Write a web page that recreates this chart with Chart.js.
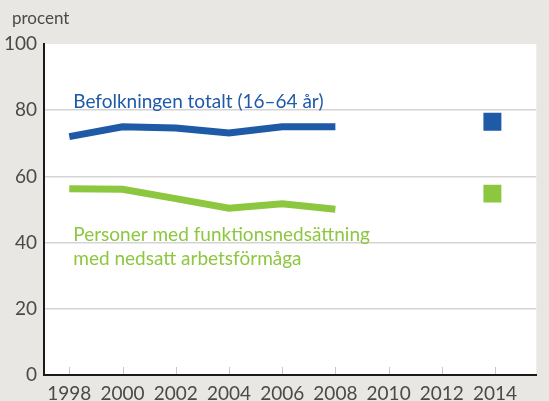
<!DOCTYPE html>
<html>
<head>
<meta charset="utf-8">
<script src="https://cdn.jsdelivr.net/npm/chart.js@4"></script>
<style>
  html, body { margin: 0; padding: 0; background: #e8e7e3; }
  #wrap { width: 549px; height: 401px; position: relative; }
</style>
</head>
<body>
<div id="wrap"><canvas id="chart"></canvas></div>
<script>
// data
const years = [1998, 2000, 2002, 2004, 2006, 2008];
const totalPop = [72.0, 75.0, 74.6, 73.1, 75.0, 75.0];
const disabled = [56.3, 56.1, 53.3, 50.4, 51.7, 50.1];
const laterYear = [2013.9];
const totalLater = [76.5];
const disabledLater = [54.8];
const tickYears = [1998, 2000, 2002, 2004, 2006, 2008, 2010, 2012, 2014];
const yTicks = [0, 20, 40, 60, 80, 100];

const blue = '#1f5aa7';
const green = '#8dc63f';
const font = 'Lato, "Noto Sans", sans-serif';
const tickFont = '"Liberation Sans Narrow", Lato, sans-serif';

function pts(xs, ys) {
  return xs.map((x, i) => ({ x: x, y: ys[i] }));
}

// background, white plot area, tick marks and text labels
const decor = {
  id: 'decor',
  beforeDraw(chart) {
    const ctx = chart.ctx;
    const a = chart.chartArea;
    ctx.save();
    ctx.fillStyle = '#e8e7e3';
    ctx.fillRect(0, 0, chart.width, chart.height);
    ctx.fillStyle = '#ffffff';
    ctx.fillRect(a.left, a.top, a.right - a.left, a.bottom - a.top);
    ctx.restore();
  },
  afterDraw(chart) {
    const ctx = chart.ctx;
    const x = chart.scales.x, y = chart.scales.y;
    ctx.save();
    // small tick marks pointing up from the x axis
    ctx.strokeStyle = '#c8c8c8';
    ctx.lineWidth = 1;
    tickYears.forEach(v => {
      const px = Math.round(x.getPixelForValue(v)) + 0.5;
      ctx.beginPath();
      ctx.moveTo(px, y.bottom - 1);
      ctx.lineTo(px, y.bottom - 8);
      ctx.stroke();
    });
    // axis title
    ctx.fillStyle = '#4a4a4a';
    ctx.font = '17px ' + font;
    ctx.textBaseline = 'alphabetic';
    ctx.fillText('procent', 12, 24);
    // series labels
    ctx.fillStyle = blue;
    ctx.font = '19px ' + font;
    ctx.fillText('Befolkningen totalt (16–64 år)', x.getPixelForValue(1998.15), y.getPixelForValue(80.8));
    ctx.fillStyle = green;
    ctx.fillText('Personer med funktionsnedsättning', x.getPixelForValue(1998.15), y.getPixelForValue(40.4));
    ctx.fillText('med nedsatt arbetsförmåga', x.getPixelForValue(1998.15), y.getPixelForValue(33.3));
    ctx.restore();
  }
};

new Chart(document.getElementById('chart'), {
  type: 'line',
  data: {
    datasets: [
      {
        data: pts(years, totalPop),
        borderColor: blue,
        borderWidth: 7,
        pointRadius: 0,
        tension: 0,
        borderCapStyle: 'butt'
      },
      {
        data: pts(years, disabled),
        borderColor: green,
        borderWidth: 7,
        pointRadius: 0,
        tension: 0,
        borderCapStyle: 'butt'
      },
      {
        data: pts(laterYear, totalLater),
        showLine: false,
        pointStyle: 'rect',
        pointRadius: 12.7,
        pointBorderWidth: 0,
        pointBackgroundColor: blue
      },
      {
        data: pts(laterYear, disabledLater),
        showLine: false,
        pointStyle: 'rect',
        pointRadius: 12.7,
        pointBorderWidth: 0,
        pointBackgroundColor: green
      }
    ]
  },
  options: {
    responsive: true,
    maintainAspectRatio: false,
    animation: false,
    layout: { padding: { top: 44, right: 0, left: 0, bottom: 0 } },
    plugins: { legend: { display: false }, tooltip: { enabled: false } },
    scales: {
      x: {
        type: 'linear',
        min: 1997.05,
        max: 2015.55,
        afterBuildTicks: s => { s.ticks = tickYears.map(v => ({ value: v })); },
        afterFit: s => { s.height = 26; },
        grid: { display: false, drawTicks: false },
        border: { display: true, color: '#1a1a1a', width: 2 },
        ticks: {
          padding: 7,
          color: '#4a4a4a',
          font: { family: tickFont, size: 19 },
          callback: v => String(v)
        }
      },
      y: {
        min: 0,
        max: 100,
        afterBuildTicks: s => { s.ticks = yTicks.map(v => ({ value: v })); },
        afterFit: s => { s.width = 44; },
        grid: {
          drawTicks: false,
          color: ctx => (ctx.tick.value === 0 || ctx.tick.value === 100) ? 'rgba(0,0,0,0)' : '#d4d4d4',
          lineWidth: 1.5
        },
        border: { display: true, color: '#1a1a1a', width: 2 },
        ticks: {
          padding: 7,
          color: '#4a4a4a',
          font: { family: tickFont, size: 19 }
        }
      }
    }
  },
  plugins: [decor]
});
</script>
</body>
</html>
